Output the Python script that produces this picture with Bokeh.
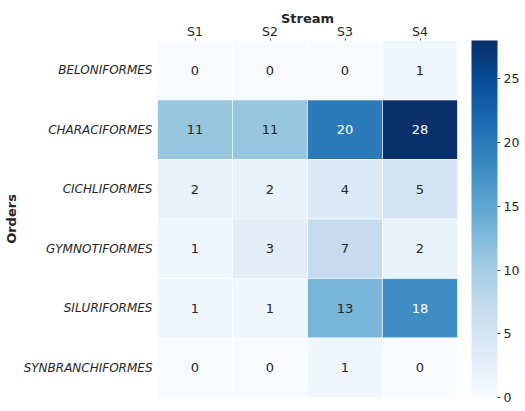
from bokeh.plotting import figure
from bokeh.layouts import column
from bokeh.models import ColumnDataSource, LinearColorMapper, ColorBar, FactorRange, BasicTicker, Spacer
from bokeh.palettes import Blues256
from bokeh.core.properties import value
from bokeh.embed import file_html
from bokeh.resources import INLINE

streams = ["S1", "S2", "S3", "S4"]
orders = ["BELONIFORMES", "CHARACIFORMES", "CICHLIFORMES", "GYMNOTIFORMES", "SILURIFORMES", "SYNBRANCHIFORMES"]
counts = {
    "BELONIFORMES": [0, 0, 0, 1],
    "CHARACIFORMES": [11, 11, 20, 28],
    "CICHLIFORMES": [2, 2, 4, 5],
    "GYMNOTIFORMES": [1, 3, 7, 2],
    "SILURIFORMES": [1, 1, 13, 18],
    "SYNBRANCHIFORMES": [0, 0, 1, 0],
}
vmin, vmax = 0, 28

palette = list(reversed(Blues256))
mapper = LinearColorMapper(palette=palette, low=vmin, high=vmax)

def lum(hexc):
    r, g, b = [int(hexc[i:i + 2], 16) / 255 for i in (1, 3, 5)]
    def f(c):
        return c / 12.92 if c <= 0.03928 else ((c + 0.055) / 1.055) ** 2.4
    return 0.2126 * f(r) + 0.7152 * f(g) + 0.0722 * f(b)

xs, ys, vals, txt, tcol = [], [], [], [], []
for o in orders:
    for s, v in zip(streams, counts[o]):
        xs.append(s)
        ys.append(o)
        vals.append(v)
        txt.append(str(v))
        idx = min(len(palette) - 1, int((v - vmin) / (vmax - vmin) * len(palette)))
        tcol.append("#262626" if lum(palette[idx]) > 0.408 else "#ffffff")

src = ColumnDataSource(dict(x=xs, y=ys, v=vals, t=txt, tc=tcol))

p = figure(frame_width=300, frame_height=357, x_range=FactorRange(*streams),
           y_range=FactorRange(*reversed(orders)),
           x_axis_location="above", output_backend="svg", toolbar_location=None,
           min_border_left=148, min_border_right=20, min_border_top=31, min_border_bottom=7)
p.outline_line_color = None
p.grid.grid_line_color = None

p.rect(x="x", y="y", width=1, height=1, source=src,
       fill_color={"field": "v", "transform": mapper}, line_color="white", line_width=0.6)
p.text(x="x", y="y", text="t", source=src, text_color="tc", text_align="center",
       text_baseline="middle", text_font=value("DejaVu Sans"), text_font_size="13px")

for ax in (p.xaxis[0], p.yaxis[0]):
    ax.axis_line_color = None
    ax.major_tick_line_color = "#555555"
    ax.major_tick_in = 0
    ax.major_tick_out = 2
    ax.major_label_text_font = "DejaVu Sans"
    ax.major_label_text_font_size = "12.5px"
    ax.major_label_text_color = "#262626"
    ax.axis_label_text_font = "DejaVu Sans"
    ax.axis_label_text_font_size = "13px"
    ax.axis_label_text_font_style = "bold"
    ax.axis_label_text_color = "#262626"

p.xaxis.axis_label = "Stream"
p.xaxis.major_label_standoff = 0
p.xaxis.axis_label_standoff = -5
p.yaxis.axis_label = "Orders"
p.yaxis.major_label_text_font_size = "12px"
p.yaxis.major_label_text_font_style = "italic"
p.yaxis.major_tick_line_color = None
p.yaxis.major_label_standoff = 3
p.yaxis.axis_label_standoff = 2

cb = ColorBar(color_mapper=mapper, ticker=BasicTicker(desired_num_ticks=6), width=26,
              padding=0, margin=0, location=(14, 0), bar_line_color=None, major_tick_in=0,
              major_tick_out=3, major_tick_line_color="#555555",
              major_label_text_font="DejaVu Sans",
              major_label_text_font_size="12.5px", major_label_text_color="#262626",
              label_standoff=3, background_fill_color=None, border_line_color=None)
p.add_layout(cb, "right")

layout = column(Spacer(height=7), p)
open("out.html", "w").write(file_html(layout, INLINE))
